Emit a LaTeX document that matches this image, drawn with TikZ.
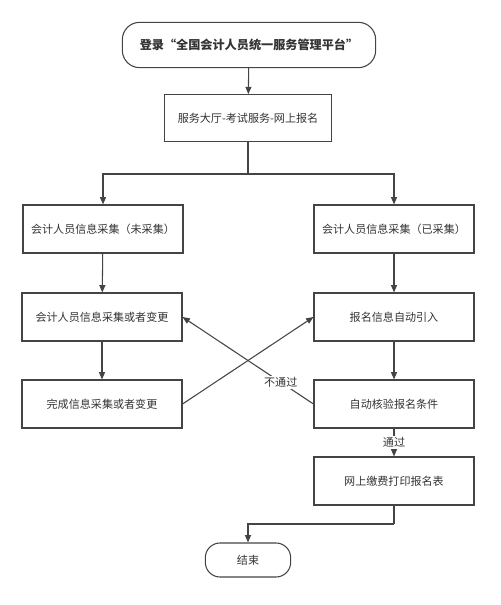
\documentclass[tikz,border=0pt]{standalone}
\usepackage{fontspec}
\setmainfont{Noto Sans CJK SC}
\usetikzlibrary{arrows.meta}

\definecolor{lineclr}{HTML}{444444}
\definecolor{textclr}{HTML}{333333}

\tikzset{
  stepbox/.style={draw=lineclr, line width=0.8pt, text=textclr, font=\fontsize{8.3}{10}\selectfont,
    minimum width=120pt, minimum height=36pt, inner sep=0.75pt},
  terminal/.style={stepbox, rounded corners=13pt},
  arr/.style={draw=lineclr, line width=0.8pt, -{Triangle[length=5.5pt,width=4.5pt]}},
  lbl/.style={fill=white, text=textclr, font=\fontsize{8.3}{10}\selectfont, inner sep=1pt}
}

\begin{document}
\begin{tikzpicture}[x=0.75pt,y=0.75pt,yscale=-1,xscale=1]
\useasboundingbox (0,0) rectangle (500,605);

% Terminal nodes
\node [terminal, minimum width=190pt, minimum height=34pt, font=\fontsize{9.1}{11}\selectfont\bfseries] (start) at (249,45) {登录“全国会计人员统一服务管理平台”};
\node [terminal, minimum width=64pt, minimum height=25.5pt, rounded corners=11pt] (finish) at (248,560) {结束};

% Process nodes
\node [stepbox, minimum width=125pt, minimum height=35pt] (hall) at (248,118) {服务大厅-考试服务-网上报名};
\node [stepbox] (notcollected) at (103,229) {会计人员信息采集（未采集）};
\node [stepbox] (collect) at (102,317) {会计人员信息采集或者变更};
\node [stepbox] (done) at (102,404) {完成信息采集或者变更};
\node [stepbox] (collected) at (394,229) {会计人员信息采集（已采集）};
\node [stepbox] (import) at (394,317) {报名信息自动引入};
\node [stepbox] (check) at (394,404) {自动核验报名条件};
\node [stepbox] (pay) at (394,481) {网上缴费打印报名表};

% Branch points
\coordinate (split) at (248,174);
\coordinate (merge) at (394,524);

% Connectors
\draw [arr] (start) -- (hall);
\draw [draw=lineclr, line width=0.8pt] (hall) -- (split);
\draw [arr] (split) -| (notcollected);
\draw [arr] (split) -| (collected);
\draw [arr] (notcollected) -- (collect);
\draw [arr] (collect) -- (done);
\draw [arr] (collected) -- (import);
\draw [arr] (import) -- (check);
\draw [arr] (done.east) -- (import.west);
\draw [arr] (check.west) -- node [lbl, pos=0.25] {不通过} (collect.east);
\draw [arr] (check) -- node [lbl] {通过} (pay);
\draw [draw=lineclr, line width=0.8pt] (pay) -- (merge);
\draw [arr] (merge) -| (finish);

\end{tikzpicture}
\end{document}
